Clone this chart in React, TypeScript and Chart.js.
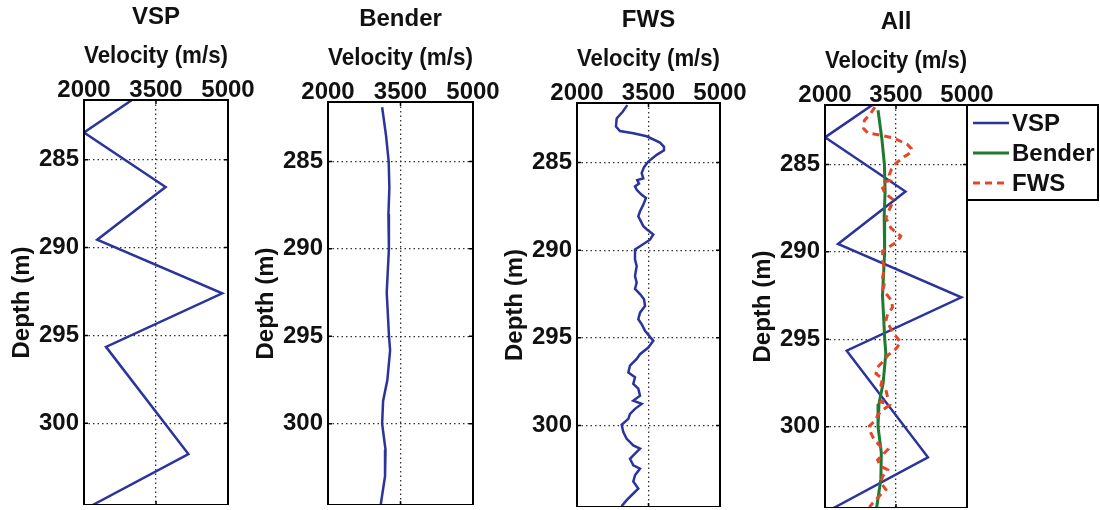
import React, { useEffect, useRef } from "react";
import { Chart, registerables } from "chart.js";

Chart.register(...registerables);

// ---------------- data ----------------
const VELOCITY_TICKS = [2000, 3500, 5000];
const DEPTH_TICKS = [285, 290, 295, 300];
const VELOCITY_MIN = 2000;
const VELOCITY_MAX = 5000;
const DEPTH_MIN = 281.6;
const DEPTH_MAX = 304.65;

const PANEL_TITLES = ["VSP", "Bender", "FWS", "All"];
const SERIES_LABELS = ["VSP", "Bender", "FWS"];
const X_TITLE = "Velocity (m/s)";
const Y_TITLE = "Depth (m)";

const VSP_DEPTH = [281.6, 283.45, 286.55, 289.55, 292.6, 295.65, 301.75, 304.65];
const VSP_VEL = [3000, 2000, 3700, 2275, 4880, 2458, 4175, 2180];

const BENDER_DEPTH = [281.9, 283.5, 285, 286.5, 288, 290, 292.5, 295, 295.8, 297.5, 298.7, 300, 301.5, 303, 304.65];
const BENDER_VEL = [3120, 3200, 3255, 3270, 3250, 3260, 3215, 3262, 3285, 3228, 3140, 3120, 3190, 3180, 3090];

const FWS_DEPTH = [
  281.72, 282.1, 282.48, 282.95, 283.2, 283.33, 283.5, 283.86, 284.1, 284.3,
  284.56, 284.94, 285.26, 285.6, 285.9, 286.0, 286.2, 286.36, 286.55, 286.84,
  287.02, 287.4, 287.78, 288.07, 288.44, 288.63, 288.8, 289.1, 289.4, 289.77,
  289.96, 290.53, 290.9, 291.48, 291.85, 292.2, 292.5, 292.8, 293.18, 293.56,
  293.94, 294.22, 294.6, 295.17, 295.55, 295.93, 296.2, 296.59, 296.97, 297.25,
  297.63, 297.9, 298.3, 298.58, 298.77, 299.05, 299.34, 299.62, 299.96, 300.38,
  300.76, 301.14, 301.32, 301.6, 301.9, 302.27, 302.46, 302.84, 303.2, 303.6,
  303.88, 304.26, 304.6,
];
const FWS_VEL = [
  3055, 2958, 2832, 2818, 2902, 3181, 3462, 3741, 3825, 3825,
  3672, 3496, 3406, 3357, 3391, 3265, 3300, 3217, 3252, 3357,
  3447, 3391, 3322, 3286, 3357, 3391, 3462, 3601, 3531, 3322,
  3217, 3217, 3252, 3217, 3252, 3217, 3322, 3406, 3427, 3322,
  3286, 3357, 3427, 3601, 3496, 3322, 3252, 3112, 3077, 3217,
  3181, 3286, 3322, 3181, 3357, 3217, 3112, 3077, 2937, 2972,
  3042, 3181, 3322, 3217, 3112, 3181, 3322, 3217, 3181, 3286,
  3181, 3042, 2937,
];

// ---------------- styling / layout ----------------
const FONT_FAMILY = "'Liberation Sans', Arial, Helvetica, sans-serif";
const FONT = { family: FONT_FAMILY, size: 24, weight: "bold" as const, lineHeight: 1 };
const SERIES_STYLE = [
  { color: "#2b339c", width: 2.5, dash: [] as number[] },
  { color: "#1d7a30", width: 3, dash: [] as number[] },
  { color: "#e2472a", width: 3, dash: [7, 5] },
];
const SINGLE_COLOR = "#2b339c";

type PanelCfg = { left: number; top: number; width: number; height: number; padRight: number; series: number[]; legend: boolean; single: boolean };

const PANELS: PanelCfg[] = [
  { left: 0, top: 0, width: 300, height: 505, padRight: 72, series: [0], legend: false, single: true },
  { left: 244, top: 2, width: 300, height: 503, padRight: 71, series: [1], legend: false, single: true },
  { left: 493, top: 3, width: 300, height: 504, padRight: 73, series: [2], legend: false, single: true },
  { left: 741, top: 5, width: 359, height: 503, padRight: 133, series: [0, 1, 2], legend: true, single: false },
];

function seriesPoints(i: number) {
  const d = [VSP_DEPTH, BENDER_DEPTH, FWS_DEPTH][i];
  const v = [VSP_VEL, BENDER_VEL, FWS_VEL][i];
  return d.map((depth, k) => ({ x: v[k], y: depth }));
}

const framePlugin = {
  id: "frame",
  afterDraw(chart: any) {
    const { ctx, chartArea: a, scales } = chart;
    ctx.save();
    ctx.strokeStyle = "#000";
    ctx.lineWidth = 1.5;
    const tl = 4;
    for (const v of VELOCITY_TICKS) {
      const x = scales.x.getPixelForValue(v);
      ctx.beginPath();
      ctx.moveTo(x, a.top); ctx.lineTo(x, a.top + tl);
      ctx.moveTo(x, a.bottom); ctx.lineTo(x, a.bottom - tl);
      ctx.stroke();
    }
    for (const v of DEPTH_TICKS) {
      const y = scales.y.getPixelForValue(v);
      ctx.beginPath();
      ctx.moveTo(a.left, y); ctx.lineTo(a.left + tl, y);
      ctx.moveTo(a.right, y); ctx.lineTo(a.right - tl, y);
      ctx.stroke();
    }
    ctx.lineWidth = 2;
    ctx.strokeRect(a.left, a.top, a.right - a.left, a.bottom - a.top);
    ctx.restore();
  },
};

const boxLegendPlugin = {
  id: "boxLegend",
  afterDraw(chart: any) {
    const { ctx, chartArea: a } = chart;
    const x0 = a.right;
    const y0 = a.top;
    const w = 131;
    const h = 95;
    ctx.save();
    ctx.fillStyle = "#fff";
    ctx.fillRect(x0, y0, w, h);
    ctx.lineWidth = 2;
    ctx.strokeStyle = "#000";
    ctx.strokeRect(x0, y0, w, h);
    ctx.font = `bold 24px ${FONT_FAMILY}`;
    ctx.textBaseline = "middle";
    ctx.textAlign = "left";
    chart.data.datasets.forEach((ds: any, i: number) => {
      const y = y0 + 18 + i * 30;
      ctx.beginPath();
      ctx.strokeStyle = ds.borderColor;
      ctx.lineWidth = ds.borderWidth;
      ctx.setLineDash(ds.borderDash || []);
      ctx.moveTo(x0 + 6, y);
      ctx.lineTo(x0 + 42, y);
      ctx.stroke();
      ctx.setLineDash([]);
      ctx.fillStyle = "#111";
      ctx.fillText(ds.label, x0 + 45, y + 1);
    });
    ctx.restore();
  },
};

function Panel({ idx }: { idx: number }) {
  const ref = useRef<HTMLCanvasElement>(null);
  const cfg = PANELS[idx];
  useEffect(() => {
    const datasets = cfg.series.map((s, k) => {
      const st = SERIES_STYLE[s];
      const color = cfg.single ? SINGLE_COLOR : st.color;
      return {
        label: SERIES_LABELS[s],
        data: seriesPoints(s),
        showLine: true,
        borderColor: color,
        backgroundColor: color,
        borderWidth: cfg.single ? 2.5 : st.width,
        borderDash: cfg.single ? [] : st.dash,
        pointRadius: 0,
        tension: 0,
        order: cfg.series.length - k,
      };
    });
    const chart = new Chart(ref.current!, {
      type: "scatter",
      data: { datasets },
      options: {
        responsive: false,
        animation: false,
        devicePixelRatio: 1,
        layout: { padding: { left: 0, top: 0, right: cfg.padRight, bottom: 0 } },
        plugins: {
          legend: { display: false },
          tooltip: { enabled: false },
          title: {
            display: true,
            text: PANEL_TITLES[idx],
            fullSize: false,
            color: "#111",
            font: FONT,
            padding: { top: 5, bottom: 12 },
          },
        },
        scales: {
          x: {
            type: "linear",
            position: "top",
            min: VELOCITY_MIN,
            max: VELOCITY_MAX,
            afterBuildTicks: (s: any) => { s.ticks = VELOCITY_TICKS.map((v) => ({ value: v })); },
            afterFit: (s: any) => { s.height = 59; },
            ticks: { color: "#111", font: FONT, padding: -2, autoSkip: false, maxRotation: 0, callback: (v: any) => String(v) },
            grid: { color: "rgba(30,30,30,0.9)", lineWidth: 1.3, drawTicks: false },
            border: { display: false, dash: [1.5, 3] },
            title: { display: true, text: X_TITLE, color: "#111", font: FONT, padding: { top: 3, bottom: 0 } },
          },
          y: {
            type: "linear",
            position: "left",
            reverse: true,
            min: DEPTH_MIN,
            max: DEPTH_MAX,
            afterBuildTicks: (s: any) => { s.ticks = DEPTH_TICKS.map((v) => ({ value: v })); },
            afterFit: (s: any) => { s.width = 84; s.paddingTop = 0; s.paddingBottom = 0; },
            ticks: { color: "#111", font: FONT, padding: 5, autoSkip: false, callback: (v: any) => String(v) },
            grid: { color: "rgba(30,30,30,0.9)", lineWidth: 1.3, drawTicks: false },
            border: { display: false, dash: [1.5, 3] },
            title: { display: true, text: Y_TITLE, color: "#111", font: FONT, padding: { top: 10, bottom: 0 } },
          },
        },
      } as any,
      plugins: cfg.legend ? [framePlugin, boxLegendPlugin] : [framePlugin],
    });
    return () => chart.destroy();
  }, []);
  return (
    <canvas
      ref={ref}
      width={cfg.width}
      height={cfg.height}
      style={{ position: "absolute", left: cfg.left, top: cfg.top, width: cfg.width, height: cfg.height }}
    />
  );
}

export default function App() {
  return (
    <div style={{ position: "absolute", left: 0, top: 0, width: 1100, height: 510, background: "#fff", overflow: "hidden" }}>
      {PANELS.map((_, i) => (
        <Panel key={i} idx={i} />
      ))}
    </div>
  );
}
